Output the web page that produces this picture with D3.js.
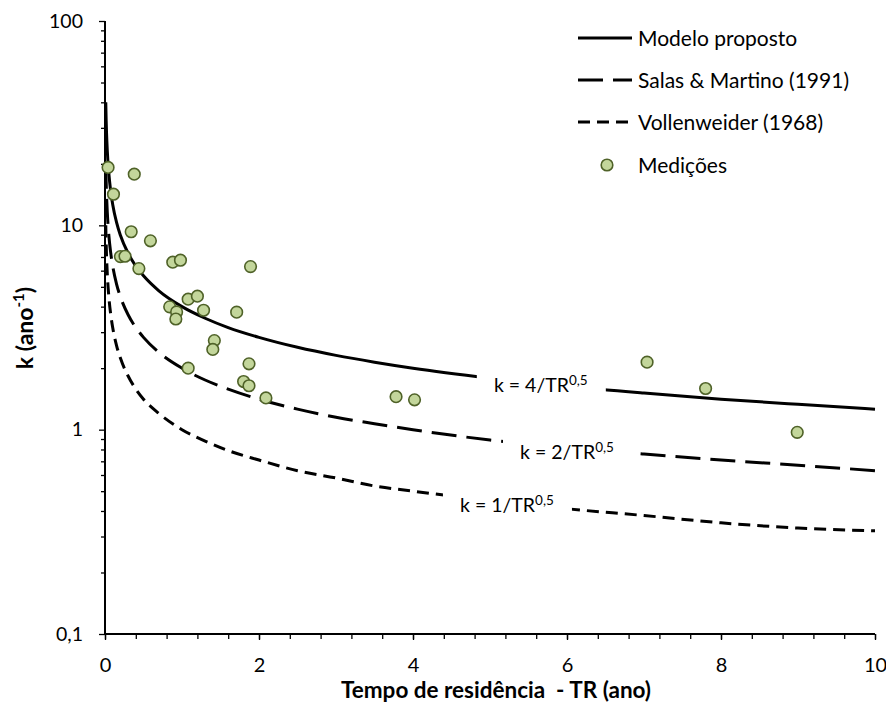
<!DOCTYPE html>
<html>
<head>
<meta charset="utf-8">
<script src="https://cdn.jsdelivr.net/npm/d3@7"></script>
<style>
  body { margin: 0; background: #fff; }
  text { font-family: Lato, "Liberation Sans", sans-serif; fill: #000; white-space: pre; }
</style>
</head>
<body>
<svg id="chart"></svg>
<script>
// model curves at these residence times
const trPts = [0.01, 0.015, 0.02, 0.03, 0.05, 0.075, 0.1, 0.15, 0.2, 0.3, 0.4, 0.5, 0.7, 1, 1.3, 1.6, 2, 2.5, 3, 3.5, 4, 5, 6, 7, 8, 9, 10];
const kModelo = [40, 32.66, 28.28, 23.09, 17.89, 14.61, 12.65, 10.33, 8.94, 7.30, 6.32, 5.66, 4.78, 4.00, 3.51, 3.16, 2.83, 2.53, 2.31, 2.14, 2.00, 1.79, 1.63, 1.51, 1.41, 1.33, 1.26];
const kSalas = [20, 16.33, 14.14, 11.55, 8.94, 7.30, 6.32, 5.16, 4.47, 3.65, 3.16, 2.83, 2.39, 2.00, 1.75, 1.58, 1.41, 1.26, 1.15, 1.07, 1.00, 0.89, 0.82, 0.76, 0.71, 0.67, 0.63];
const kVollen = [10, 8.16, 7.07, 5.77, 4.47, 3.65, 3.16, 2.58, 2.24, 1.83, 1.58, 1.41, 1.20, 1.00, 0.88, 0.79, 0.71, 0.63, 0.58, 0.53, 0.50, 0.45, 0.41, 0.38, 0.35, 0.33, 0.32];

// measurements
const medTR = [0.04, 0.38, 0.11, 0.34, 0.59, 0.20, 0.26, 0.44, 0.88, 0.98, 1.89, 1.08, 1.20, 0.84, 0.93, 1.28, 1.71, 0.92, 1.42, 1.40, 1.08, 1.87, 1.80, 1.87, 2.09, 3.78, 4.02, 7.04, 7.80, 8.99];
const medK = [19.2, 17.8, 14.2, 9.3, 8.4, 7.03, 7.06, 6.14, 6.6, 6.75, 6.28, 4.35, 4.5, 3.99, 3.77, 3.84, 3.76, 3.48, 2.73, 2.47, 2.0, 2.1, 1.72, 1.64, 1.43, 1.45, 1.40, 2.14, 1.59, 0.97];

const seriesNames = ['Modelo proposto', 'Salas & Martino (1991)', 'Vollenweider (1968)', 'Medições'];
const curveCoef = ['4', '2', '1'];
// where each curve label sits (TR, k)
const labelTR = [5.66, 6.0, 5.22];
const labelK = [1.655, 0.778, 0.428];

const xTicks = [0, 2, 4, 6, 8, 10];
const yTicks = [0.1, 1, 10, 100];
const yTickLabels = ['0,1', '1', '10', '100'];

const W = 886, H = 711;
const m = { left: 105, right: 11, top: 21, bottom: 77 };

const svg = d3.select('#chart').attr('width', W).attr('height', H);

const x = d3.scaleLinear().domain([0, 10]).range([m.left, W - m.right]);
const y = d3.scaleLog().domain([0.1, 100]).range([H - m.bottom, m.top]);

// minor ticks
const xMinor = d3.range(0, 10.001, 0.4);
const yMinor = [];
[0.1, 1, 10].forEach(d => { for (let i = 2; i <= 9; i++) yMinor.push(d * i); });

const axisG = svg.append('g').attr('class', 'axes');

axisG.append('g')
  .attr('transform', `translate(0,${H - m.bottom})`)
  .call(d3.axisBottom(x).tickValues(xMinor).tickSize(5).tickFormat(''))
  .call(g => g.select('.domain').remove())
  .call(g => g.selectAll('line').attr('stroke', '#000').attr('stroke-width', 1.3));

axisG.append('g')
  .attr('transform', `translate(${m.left},0)`)
  .call(d3.axisLeft(y).tickValues(yMinor).tickSize(4).tickFormat(''))
  .call(g => g.select('.domain').remove())
  .call(g => g.selectAll('line').attr('stroke', '#000').attr('stroke-width', 1.3));

const xAxis = axisG.append('g')
  .attr('transform', `translate(0,${H - m.bottom})`)
  .call(d3.axisBottom(x).tickValues(xTicks).tickSize(6).tickPadding(18).tickFormat(d => d));
xAxis.select('.domain').attr('stroke', '#000').attr('stroke-width', 2).attr('d', `M${m.left},0H${W - m.right}`);
xAxis.selectAll('line').attr('stroke', '#000').attr('stroke-width', 1.3);
xAxis.selectAll('text').attr('font-size', 20);

const yAxis = axisG.append('g')
  .attr('transform', `translate(${m.left},0)`)
  .call(d3.axisLeft(y).tickValues(yTicks).tickSize(6).tickPadding(16).tickFormat((d, i) => yTickLabels[i]));
yAxis.select('.domain').attr('stroke', '#000').attr('stroke-width', 2).attr('d', `M0,${m.top}V${H - m.bottom}`);
yAxis.selectAll('line').attr('stroke', '#000').attr('stroke-width', 1.3);
yAxis.selectAll('text').attr('font-size', 19.5);

// axis titles
svg.append('text')
  .attr('x', 496).attr('y', 698)
  .attr('text-anchor', 'middle')
  .attr('font-size', 22.5).attr('font-weight', 'bold')
  .text('Tempo de residência  - TR (ano)');

const yt = svg.append('text')
  .attr('transform', 'translate(33,328) rotate(-90)')
  .attr('text-anchor', 'middle')
  .attr('font-size', 23).attr('font-weight', 'bold');
yt.append('tspan').text('k (ano');
yt.append('tspan').attr('font-size', 15).attr('dy', -9).text('-1');
yt.append('tspan').attr('dy', 9).text(')');

// curves
const dashes = [null, '25,10', '12,7'];
const curves = [kModelo, kSalas, kVollen];
const line = d3.line()
  .x(d => x(d[0]))
  .y(d => y(d[1]))
  .curve(d3.curveMonotoneX);

curves.forEach((ks, i) => {
  svg.append('path')
    .datum(trPts.map((t, j) => [t, ks[j]]))
    .attr('d', line)
    .attr('fill', 'none')
    .attr('stroke', '#000')
    .attr('stroke-width', 3)
    .attr('stroke-dasharray', dashes[i]);
});

// curve labels over white boxes
curveCoef.forEach((c, i) => {
  const cx = x(labelTR[i]), cy = y(labelK[i]);
  svg.append('rect')
    .attr('x', cx - 64).attr('y', cy - 15)
    .attr('width', 129).attr('height', 30)
    .attr('fill', '#fff');
  const t = svg.append('text')
    .attr('x', cx).attr('y', cy + 7)
    .attr('text-anchor', 'middle')
    .attr('font-size', 19.5);
  t.append('tspan').text(`k = ${c}/TR`);
  t.append('tspan').attr('font-size', 13.5).attr('dy', -7).text('0,5');
});

// measurements
svg.append('g')
  .selectAll('circle')
  .data(medTR.map((t, i) => [t, medK[i]]))
  .join('circle')
  .attr('cx', d => x(d[0]))
  .attr('cy', d => y(d[1]))
  .attr('r', 5.8)
  .attr('fill', '#c3d69b')
  .attr('stroke', '#4f6228')
  .attr('stroke-width', 1.6);

// legend
const leg = svg.append('g').attr('transform', 'translate(578,38)');
seriesNames.forEach((name, i) => {
  const row = leg.append('g').attr('transform', `translate(0,${[0, 42, 84, 127][i]})`);
  if (i < 3) {
    row.append('line')
      .attr('x1', 0).attr('x2', 54)
      .attr('stroke', '#000').attr('stroke-width', 3)
      .attr('stroke-dasharray', dashes[i]);
  } else {
    row.append('circle')
      .attr('cx', 29).attr('r', 5.8)
      .attr('fill', '#c3d69b').attr('stroke', '#4f6228').attr('stroke-width', 1.6);
  }
  row.append('text')
    .attr('x', 60).attr('y', 7.5)
    .attr('font-size', 21)
    .text(name);
});
</script>
</body>
</html>
